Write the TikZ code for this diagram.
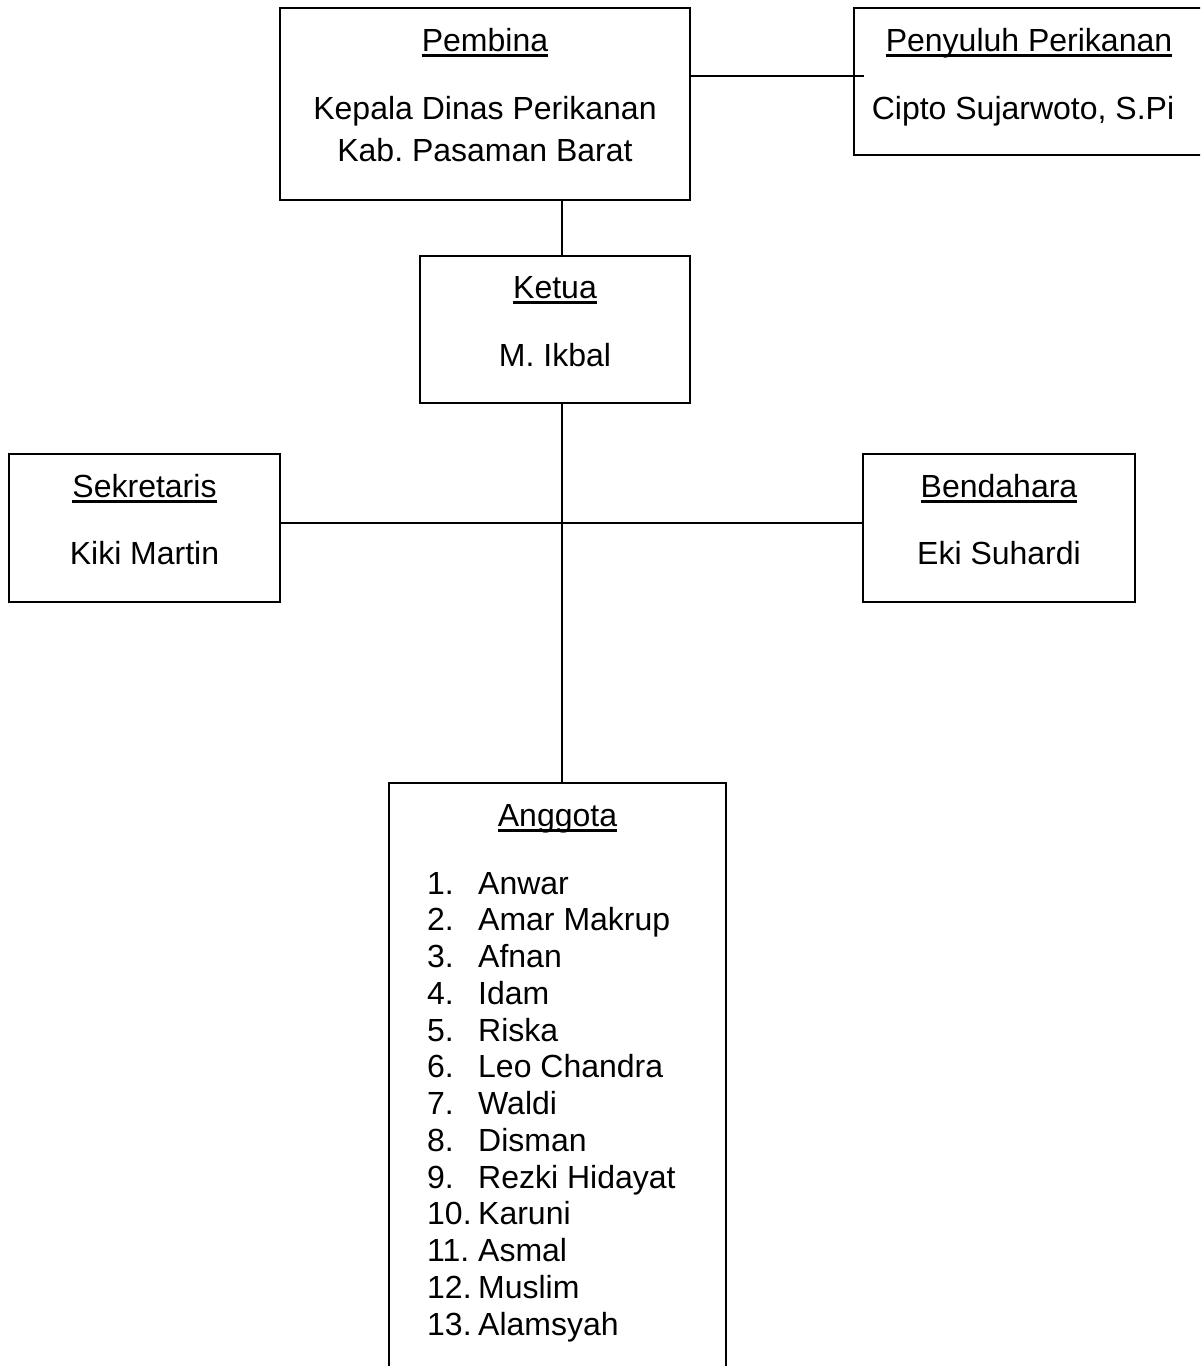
\documentclass[tikz,border=0pt]{standalone}
\usepackage{fontspec}
\setmainfont{Liberation Sans}
\usepackage{tikz}
\frenchspacing
\tikzstyle{unit}=[draw, line width=2pt, inner sep=0pt, outer sep=0pt, anchor=north west]
\tikzstyle{ttl}=[anchor=base, inner sep=0pt]
\tikzstyle{txt}=[anchor=base, inner sep=0pt, align=center]
\tikzstyle{item}=[anchor=base west, inner sep=0pt]
\tikzstyle{wire}=[line width=2pt]
\newcommand{\uln}[1]{\setbox0\hbox{#1}\rlap{\rule[-5.5pt]{\wd0}{2.2pt}}\box0}

\begin{document}
\begin{tikzpicture}[x=1pt,y=-1pt,font=\fontsize{32}{42}\selectfont]
\useasboundingbox (0,0) rectangle (1200,1366);
\clip (0,0) rectangle (1200,1366);
\node[unit, minimum width=410pt, minimum height=192pt] (pembina) at (280,8) {};
\node[unit, minimum width=350pt, minimum height=147pt] (penyuluh) at (854,8) {};
\node[unit, minimum width=270pt, minimum height=147pt] (ketua) at (420,256) {};
\node[unit, minimum width=271pt, minimum height=148pt] (sekretaris) at (9,454) {};
\node[unit, minimum width=272pt, minimum height=148pt] (bendahara) at (863,454) {};
\node[unit, minimum width=337pt, minimum height=620pt] (anggota) at (389,783) {};
\node[ttl] (pembina-t) at ([yshift=-43pt]pembina.north) {\uln{Pembina}};
% base of a two line node is its last line
\node[txt] (pembina-n) at ([yshift=-153pt]pembina.north) {Kepala Dinas Perikanan\\Kab. Pasaman Barat};
\node[ttl] (penyuluh-t) at ([yshift=-43pt]penyuluh.north) {\uln{Penyuluh Perikanan}};
\node[txt] (penyuluh-n) at ([yshift=-111pt, xshift=-6pt]penyuluh.north) {Cipto Sujarwoto, S.Pi};
\node[ttl] (ketua-t) at ([yshift=-42pt]ketua.north) {\uln{Ketua}};
\node[txt] (ketua-n) at ([yshift=-110pt]ketua.north) {M. Ikbal};
\node[ttl] (sekretaris-t) at ([yshift=-43pt]sekretaris.north) {\uln{Sekretaris}};
\node[txt] (sekretaris-n) at ([yshift=-110pt]sekretaris.north) {Kiki Martin};
\node[ttl] (bendahara-t) at ([yshift=-43pt]bendahara.north) {\uln{Bendahara}};
\node[txt] (bendahara-n) at ([yshift=-110pt]bendahara.north) {Eki Suhardi};
\node[ttl] (anggota-t) at ([yshift=-43pt]anggota.north) {\uln{Anggota}};
\foreach \nm [count=\i] in {Anwar, Amar Makrup, Afnan, Idam, Riska, Leo Chandra, Waldi, Disman, Rezki Hidayat, Karuni, Asmal, Muslim, Alamsyah}
  \node[item] (m-\i) at (427,{894+36.75*(\i-1)}) {\makebox[51pt][l]{\i.}\nm};
% junctions
\coordinate (spine) at (562,523);
\coordinate (pen-in) at (864,76);
\draw[wire] (pen-in -| pembina.east) -- (pen-in);
\draw[wire] (spine |- pembina.south) -- (spine |- ketua.north);
\draw[wire] (spine |- ketua.south) -- (spine |- anggota.north);
\draw[wire] (spine -| sekretaris.east) -- (spine -| bendahara.west);
\end{tikzpicture}
\end{document}
